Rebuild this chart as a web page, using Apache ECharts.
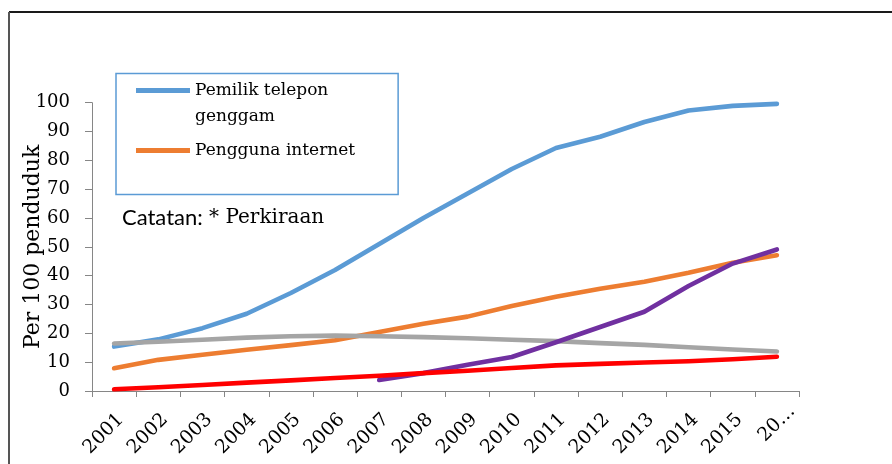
<!DOCTYPE html>
<html>
<head>
<meta charset="utf-8">
<script src="https://cdn.jsdelivr.net/npm/echarts@6/dist/echarts.min.js"></script>
<style>
html,body{margin:0;padding:0;background:#fff;}
#chart{width:892px;height:464px;}
</style>
</head>
<body>
<div id="chart"></div>
<script>
// ---- data ----
var years = ['2001','2002','2003','2004','2005','2006','2007','2008','2009','2010','2011','2012','2013','2014','2015','20…'];
var mobilePhone = [15.4, 17.9, 21.8, 26.8, 34.0, 42.0, 51.0, 60.0, 68.5, 77.0, 84.3, 88.2, 93.3, 97.3, 98.9, 99.6];
var internetUsers = [7.9, 10.8, 12.6, 14.3, 15.9, 17.6, 20.5, 23.3, 25.8, 29.5, 32.7, 35.5, 37.9, 41.0, 44.5, 47.1];
var fixedPhone = [16.5, 17.1, 17.8, 18.5, 19.0, 19.2, 19.0, 18.7, 18.3, 17.8, 17.3, 16.6, 16.0, 15.2, 14.4, 13.7];
var mobileBroadband = [null, null, null, null, null, null, 3.8, 6.2, 9.1, 11.8, 16.9, 22.2, 27.5, 36.4, 44.2, 49.1];
var fixedBroadband = [0.6, 1.3, 2.1, 2.9, 3.7, 4.5, 5.3, 6.2, 7.0, 8.0, 8.9, 9.4, 9.9, 10.3, 11.0, 11.9];
var yTicks = {min: 0, max: 100, interval: 10};
var axisTitle = 'Per 100 penduduk';
var legendNames = ['Pemilik telepon genggam', 'Pengguna internet'];
var seriesNames = ['Pemilik telepon genggam', 'Pengguna internet', 'Telepon tetap', 'Broadband bergerak', 'Broadband tetap'];
var noteLabel = 'Catatan:';
var noteText = ' * Perkiraan';

var serif = 'DejaVu Serif';
var colors = ['#5B9BD5', '#ED7D31', '#A5A5A5', '#7030A0', '#FF0000'];
var seriesData = [mobilePhone, internetUsers, fixedPhone, mobileBroadband, fixedBroadband];

var chart = echarts.init(document.getElementById('chart'), null, {renderer: 'canvas'});

function mkSeries(i) {
  return {
    name: seriesNames[i],
    type: 'line',
    data: seriesData[i],
    symbol: 'none',
    showSymbol: false,
    connectNulls: false,
    color: colors[i],
    lineStyle: {width: 4.6, color: colors[i], cap: 'round', join: 'round'},
    emphasis: {disabled: true},
    z: 2 + i
  };
}

// legend icons: bar at top (first, two-line item) / middle (second)
var iconTop = 'path://M0,0h0.01v0.01h-0.01z M0,52h0.01v0.01h-0.01z M0,10.5h54v5h-54z';
var iconMid = 'path://M0,0h0.01v0.01h-0.01z M0,52h0.01v0.01h-0.01z M0,23.5h54v5h-54z';

var option = {
  backgroundColor: '#ffffff',
  animation: false,
  grid: {left: 92, right: 93, top: 102.7, bottom: 73, containLabel: false},
  legend: {
    show: true,
    orient: 'vertical',
    left: 116,
    top: 73.5,
    padding: [4, 43, 18, 20],
    itemWidth: 54,
    itemHeight: 52,
    itemGap: -5,
    borderColor: '#5B9BD5',
    borderWidth: 1.5,
    selectedMode: false,
    data: [
      {name: legendNames[0], icon: iconTop},
      {name: legendNames[1], icon: iconMid}
    ],
    formatter: function (n) { return n === legendNames[0] ? 'Pemilik telepon\ngenggam' : n; },
    textStyle: {fontFamily: serif, fontSize: 17, color: '#000', lineHeight: 26}
  },
  xAxis: {
    type: 'category',
    data: years,
    boundaryGap: true,
    axisLine: {show: true, lineStyle: {color: '#868686', width: 1}},
    axisTick: {show: true, length: 6, lineStyle: {color: '#868686'}},
    axisLabel: {
      rotate: 45, margin: 19, interval: 0, verticalAlign: 'top',
      fontFamily: serif, fontSize: 19, color: '#000',
      formatter: function (v, i) { return i === years.length - 1 ? '{e|' + v + '}' : v; },
      rich: {e: {fontFamily: serif, fontSize: 19, color: '#000', padding: [0, -12, 0, 0]}}
    },
    splitLine: {show: false}
  },
  yAxis: {
    type: 'value',
    min: yTicks.min, max: yTicks.max, interval: yTicks.interval,
    name: axisTitle,
    nameLocation: 'middle',
    nameGap: 48,
    nameRotate: 90,
    nameMoveOverlap: false,
    nameTextStyle: {fontFamily: serif, fontSize: 22, color: '#000'},
    axisLine: {show: true, lineStyle: {color: '#868686', width: 1}},
    axisTick: {show: true, length: 7, lineStyle: {color: '#868686'}},
    axisLabel: {margin: 22, fontFamily: serif, fontSize: 18, color: '#000'},
    splitLine: {show: false}
  },
  graphic: [
    {type: 'line', shape: {x1: 9, y1: 12, x2: 892, y2: 12}, style: {stroke: '#1a1a1a', lineWidth: 2}, silent: true},
    {type: 'line', shape: {x1: 9, y1: 12, x2: 9, y2: 464}, style: {stroke: '#555555', lineWidth: 2}, silent: true},
    {type: 'text', left: 122, top: 207, silent: true,
     style: {
       text: '{s|' + noteLabel + '}{r|' + noteText + '}',
       rich: {
         s: {fontFamily: 'Lato', fontSize: 22, fill: '#000', lineHeight: 26},
         r: {fontFamily: serif, fontSize: 20, fill: '#000', lineHeight: 26}
       }
     }}
  ],
  series: [0, 1, 2, 3, 4].map(mkSeries)
};
chart.setOption(option);
</script>
</body>
</html>
